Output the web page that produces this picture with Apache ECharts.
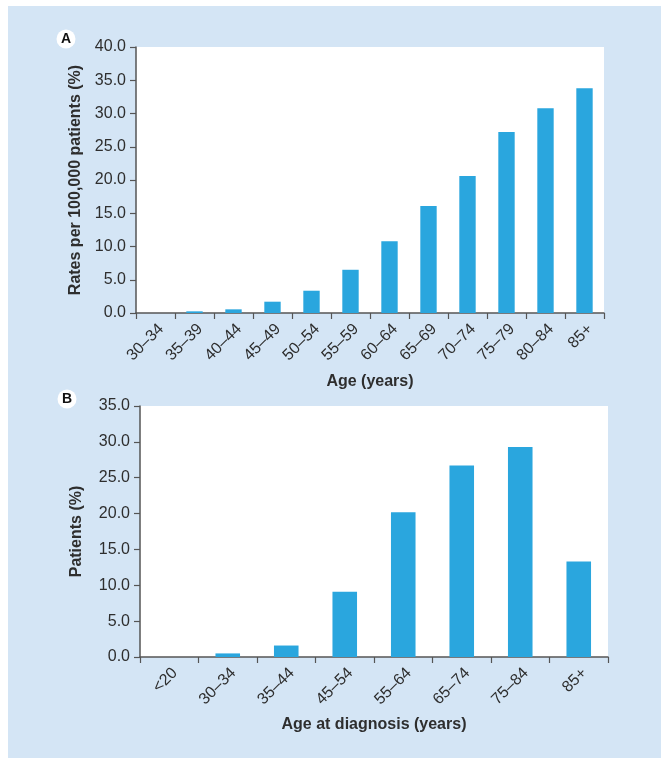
<!DOCTYPE html>
<html>
<head>
<meta charset="utf-8">
<script src="https://cdn.jsdelivr.net/npm/echarts@6/dist/echarts.min.js"></script>
<style>
  html, body { margin: 0; padding: 0; background: #ffffff; }
  #chart { width: 661px; height: 758px; }
</style>
</head>
<body>
<div id="chart"></div>
<script>
// Panel A: incidence rate by 5-year age band
const ageBandsA = ['30–34', '35–39', '40–44', '45–49', '50–54', '55–59', '60–64', '65–69', '70–74', '75–79', '80–84', '85+'];
const ratesA = [0, 0.25, 0.55, 1.7, 3.35, 6.5, 10.8, 16.1, 20.6, 27.2, 30.8, 33.8];

// Panel B: share of patients by age at diagnosis
const ageBandsB = ['<20', '30–34', '35–44', '45–54', '55–64', '65–74', '75–84', '85+'];
const patientsB = [0, 0.5, 1.6, 9.1, 20.2, 26.7, 29.3, 13.3];

const FONT = '"Liberation Sans", Arial, Helvetica, sans-serif';
const TEXT = '#2e2e2e';
const AXIS = '#555555';
const BAR = '#2aa6de';

function yAxisCfg(gridIndex, max, name, nameGap) {
  return {
    type: 'value', gridIndex, min: 0, max, interval: 5,
    name, nameLocation: 'middle', nameGap,
    nameTextStyle: { fontFamily: FONT, fontWeight: 'bold', fontSize: 16, color: TEXT },
    axisLine: { show: true, lineStyle: { color: AXIS, width: 1.5 } },
    axisTick: { show: true, length: 6, lineStyle: { color: AXIS, width: 1.2 } },
    axisLabel: { fontFamily: FONT, fontSize: 16, color: TEXT, margin: 10,
                 formatter: v => v.toFixed(1) },
    splitLine: { show: false }
  };
}

function xAxisCfg(gridIndex, data, name, nameGap) {
  return {
    type: 'category', gridIndex, data,
    name, nameLocation: 'middle', nameGap,
    nameTextStyle: { fontFamily: FONT, fontWeight: 'bold', fontSize: 16, color: TEXT },
    axisLine: { show: true, lineStyle: { color: AXIS, width: 1.5 } },
    axisTick: { show: true, length: 6, alignWithLabel: false, lineStyle: { color: AXIS, width: 1.2 } },
    axisLabel: { fontFamily: FONT, fontSize: 16, color: TEXT, rotate: 45, margin: 8, interval: 0,
                 verticalAlign: 'top' },
    splitLine: { show: false }
  };
}

function panelBadge(cx, cy, letter) {
  return [
    { type: 'circle', shape: { cx, cy, r: 9.5 }, style: { fill: '#ffffff' }, z: 10 },
    { type: 'text', x: cx, y: cy + 0.5, z: 11,
      style: { text: letter, fontFamily: FONT, fontWeight: 'bold', fontSize: 14, fill: '#111111',
               align: 'center', verticalAlign: 'middle' } }
  ];
}

const chart = echarts.init(document.getElementById('chart'), null, { renderer: 'canvas' });
chart.setOption({
  backgroundColor: '#ffffff',
  animation: false,
  graphic: [
    { type: 'rect', shape: { x: 8, y: 6, width: 653, height: 752 }, style: { fill: '#d4e5f5' }, z: -10 },
    ...panelBadge(66, 39, 'A'),
    ...panelBadge(67, 399, 'B')
  ],
  grid: [
    { left: 136, top: 47, width: 468, height: 266, show: true, backgroundColor: '#ffffff', borderWidth: 0 },
    { left: 140, top: 406, width: 468, height: 251, show: true, backgroundColor: '#ffffff', borderWidth: 0 }
  ],
  xAxis: [
    xAxisCfg(0, ageBandsA, 'Age (years)', 61),
    xAxisCfg(1, ageBandsB, 'Age at diagnosis (years)', 60)
  ],
  yAxis: [
    yAxisCfg(0, 40, 'Rates per 100,000 patients (%)', 49),
    yAxisCfg(1, 35, 'Patients (%)', 55)
  ],
  series: [
    { type: 'bar', xAxisIndex: 0, yAxisIndex: 0, data: ratesA, barWidth: '42%',
      itemStyle: { color: BAR } },
    { type: 'bar', xAxisIndex: 1, yAxisIndex: 1, data: patientsB, barWidth: '42%',
      itemStyle: { color: BAR } }
  ]
});
</script>
</body>
</html>
